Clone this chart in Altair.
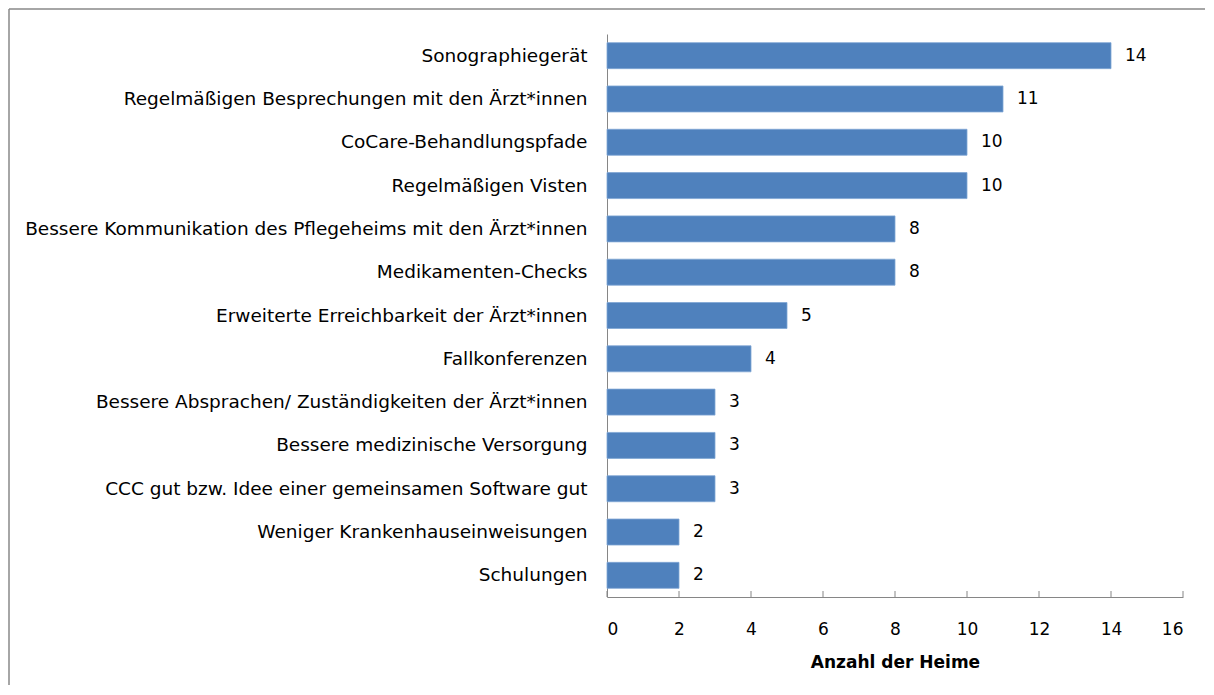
import altair as alt
import pandas as pd

categories = [
    "Sonographiegerät",
    "Regelmäßigen Besprechungen mit den Ärzt*innen",
    "CoCare-Behandlungspfade",
    "Regelmäßigen Visten",
    "Bessere Kommunikation des Pflegeheims mit den Ärzt*innen",
    "Medikamenten-Checks",
    "Erweiterte Erreichbarkeit der Ärzt*innen",
    "Fallkonferenzen",
    "Bessere Absprachen/ Zuständigkeiten der Ärzt*innen",
    "Bessere medizinische Versorgung",
    "CCC gut bzw. Idee einer gemeinsamen Software gut",
    "Weniger Krankenhauseinweisungen",
    "Schulungen",
]
values = [14, 11, 10, 10, 8, 8, 5, 4, 3, 3, 3, 2, 2]
x_ticks = [0, 2, 4, 6, 8, 10, 12, 14, 16]

df = pd.DataFrame({"Kategorie": categories, "Anzahl": values})
ticks_df = pd.DataFrame({"t": x_ticks})

FONT = "DejaVu Sans"
FS = 17
FS_Y = 18.5
W, H = 576, 563

y_enc = alt.Y(
    "Kategorie:N",
    sort=categories,
    scale=alt.Scale(paddingInner=0.4, paddingOuter=0.2),
    axis=alt.Axis(
        title=None, ticks=False, domain=True, domainColor="#868686",
        labelPadding=20, labelLimit=0, labelFontSize=FS_Y, labelFont=FONT,
        labelColor="#000000",
    ),
)
x_scale = alt.Scale(domain=[0, 16], nice=False)

bars = alt.Chart(df).mark_bar(
    color="#4F81BD", stroke="#7FA6D4", strokeWidth=0.8
).encode(
    x=alt.X(
        "Anzahl:Q", scale=x_scale,
        axis=alt.Axis(
            values=x_ticks, title="Anzahl der Heime", grid=False, ticks=False,
            tickSize=0, domainColor="#868686", labelPadding=24,
            labelFontSize=FS, labelFont=FONT, labelColor="#000000",
            titleFontSize=FS, titleFont=FONT, titleFontWeight="bold",
            titleColor="#000000", titlePadding=17,
        ),
    ),
    y=y_enc,
)

labels = alt.Chart(df).mark_text(
    align="left", baseline="middle", dx=14, fontSize=FS, font=FONT, color="#000000"
).encode(
    x=alt.X("Anzahl:Q", scale=x_scale),
    y=alt.Y("Kategorie:N", sort=categories),
    text="Anzahl:Q",
)

tick_marks = alt.Chart(ticks_df).mark_rule(color="#868686", strokeWidth=1).encode(
    x=alt.X("t:Q", scale=x_scale),
    y=alt.value(H - 6),
    y2=alt.value(H),
)

one = pd.DataFrame({"a": [0]})
border_top = alt.Chart(one).mark_rule(color="#888888", strokeWidth=1.5).encode(
    x=alt.value(-598), x2=alt.value(W + 100), y=alt.value(-25)
)
border_left = alt.Chart(one).mark_rule(color="#888888", strokeWidth=1.5).encode(
    x=alt.value(-598), y=alt.value(-25), y2=alt.value(H + 200)
)

chart = alt.layer(border_top, border_left, bars, labels, tick_marks).properties(
    width=W, height=H,
    autosize=alt.AutoSizeParams(type="none"),
    padding={"left": 599, "top": 26, "right": 22, "bottom": 88},
).configure(background="white", view=alt.ViewConfig(stroke=None))

chart.save("out.html", embed_options={"renderer": "svg", "actions": False})
